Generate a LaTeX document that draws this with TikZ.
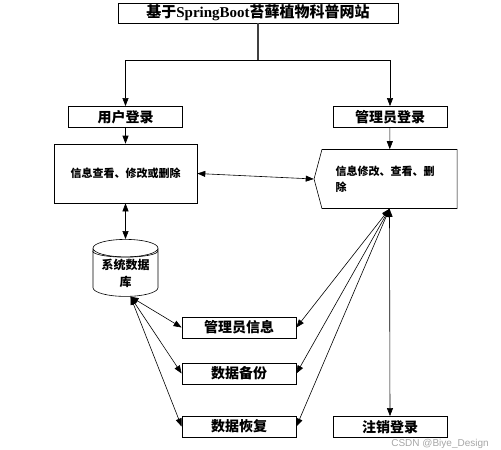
\documentclass[tikz,border=0pt]{standalone}
\usepackage{fontspec}
\setmainfont{Liberation Serif}
\setsansfont{Liberation Sans}
\newfontfamily\cjk{Noto Sans CJK SC}
\usetikzlibrary{shapes.geometric, shapes.symbols, arrows.meta}
\tikzset{
  titlebox/.style={rectangle, draw, line width=0.8pt, minimum width=280pt, minimum height=20pt, inner sep=1pt, font=\fontsize{15}{16}\selectfont\bfseries},
  loginbox/.style={rectangle, draw, line width=0.8pt, minimum width=114pt, minimum height=21pt, inner sep=1pt, font=\cjk\bfseries\fontsize{14}{15}\selectfont},
  infobox/.style={rectangle, draw, line width=0.6pt, minimum width=143pt, minimum height=59pt, inner sep=2pt, font=\cjk\bfseries\fontsize{11}{16}\selectfont},
  dbnode/.style={cylinder, shape border rotate=90, draw, line width=0.6pt, minimum width=65pt, minimum height=57pt, aspect=0.35, inner sep=1pt, align=center, font=\cjk\bfseries\fontsize{12}{17}\selectfont},
  link/.style={line width=0.6pt, >={Triangle[length=8pt, width=6pt]}},
}
\begin{document}
\begin{tikzpicture}[x=1pt, y=-1pt]
\useasboundingbox (0,0) rectangle (501,450);
\node[titlebox] (title) at (258,13) {{\cjk 基于}SpringBoot{\cjk 苔藓植物科普网站}};
\node[loginbox] (userlogin) at (125.5,117) {用户登录};
\node[loginbox] (adminlogin) at (390,117) {管理员登录};
\node[infobox] (userinfo) at (125.5,173.5) {信息查看、修改或删除};
\node[infobox, shape=signal, signal to=west, signal from=nowhere, signal pointer angle=150,
  text width=108pt, align=left] (admininfo) at (389.5,179) {信息修改、查看、删\\除};
\node[dbnode] (db) at (125.5,273.5) {系统数据\\库};
\draw[line width=0.6pt] ([yshift=-3pt]db.before top) arc (180:360:32.5pt and 6pt);
\node[loginbox] (mgrinfo) at (239,327.5) {管理员信息};
\node[loginbox] (backup) at (239,373.5) {数据备份};
\node[loginbox] (restore) at (239,426.5) {数据恢复};
\node[loginbox] (logout) at (390,427) {注销登录};
\node[font=\sffamily\fontsize{10}{11}\selectfont, text=gray, opacity=0.7] (mark) at (440,444) {CSDN @Biye\_Design};
% connectors
\coordinate (fork) at (258,60);
\coordinate (dbhub) at ([xshift=5pt]db.south);
\draw[link, line width=1.2pt, draw=black!75] (title.south) -- (fork);
\draw[link, ->] (fork) -| (userlogin.north);
\draw[link, ->] (fork) -| (adminlogin.north);
\draw[link, ->] (userlogin) -- (userinfo);
\draw[link, ->] (adminlogin) -- (admininfo);
\draw[link, <->] (userinfo.east) -- (admininfo.west);
\draw[link, <->] (userinfo) -- (db);
\draw[link, <->] (dbhub) -- (mgrinfo.west);
\draw[link, <->] (dbhub) -- (backup.west);
\draw[link, <->] (dbhub) -- (restore.west);
\draw[link, <->] (admininfo.south) -- (mgrinfo.east);
\draw[link, <->] (admininfo.south) -- (backup.east);
\draw[link, <->] (admininfo.south) -- (restore.east);
\draw[link, <->] (admininfo.south) -- (logout.north);
\end{tikzpicture}
\end{document}
